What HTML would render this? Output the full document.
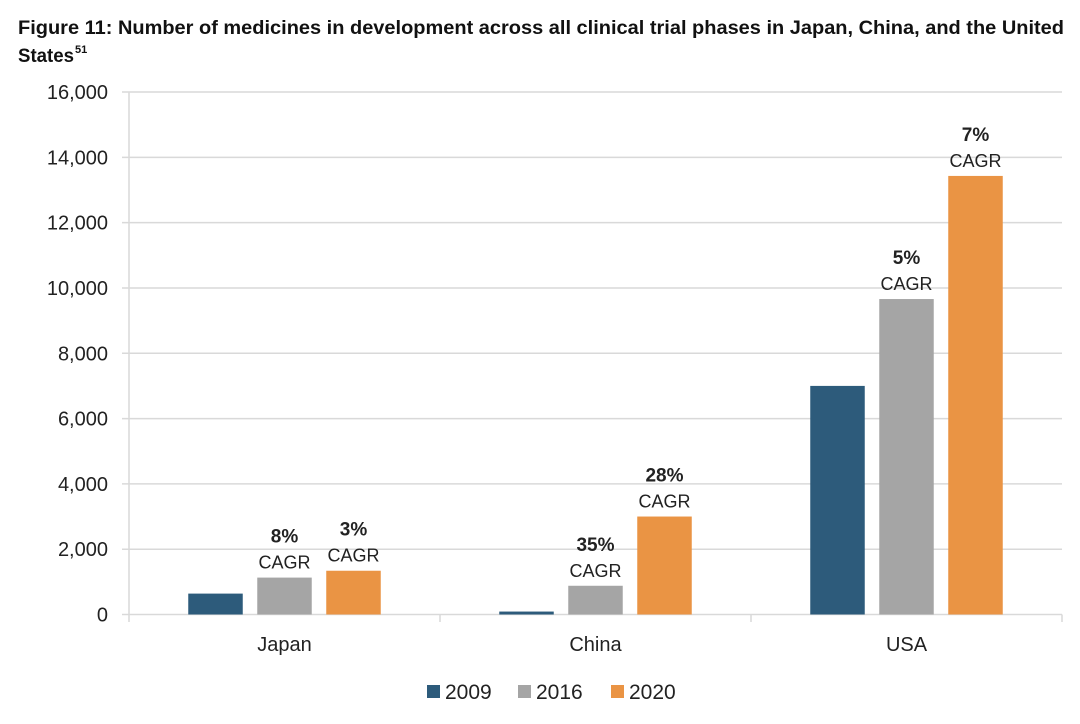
<!DOCTYPE html>
<html><head><meta charset="utf-8"><style>
html,body{margin:0;padding:0;background:#fff;width:1080px;height:724px;overflow:hidden}
svg{display:block;font-family:"Liberation Sans",sans-serif}
</style></head><body>
<svg id="chart" width="1080" height="724">
<text x="18" y="34" font-size="19" font-weight="bold" fill="#111" textLength="1046" lengthAdjust="spacingAndGlyphs">Figure 11: Number of medicines in development across all clinical trial phases in Japan, China, and the United</text>
<text x="18" y="62" font-size="19" font-weight="bold" fill="#111" textLength="56" lengthAdjust="spacingAndGlyphs">States</text>
<text x="75" y="53" font-size="11" font-weight="bold" fill="#111">51</text>
<g id="grid"></g><g id="bars"></g><g id="labels"></g><g id="legend"></g>
</svg>
<script>
const categories = ["Japan","China","USA"];
const seriesNames = ["2009","2016","2020"];
const v2009 = [640, 90, 7000];
const v2016 = [1130, 880, 9660];
const v2020 = [1340, 3000, 13430];
const cagr2016 = ["8%","35%","5%"];
const cagr2020 = ["3%","28%","7%"];
const yTicks = [0,2000,4000,6000,8000,10000,12000,14000,16000];
const colors = ["#2d5b7b","#a5a5a5","#ea9444"];
const NS="http://www.w3.org/2000/svg";
const x0=129,x1=1062,y0=614.5,yTop=92,yMax=16000;
const y=v=>y0-(v/yMax)*(y0-yTop);
const gw=(x1-x0)/categories.length;
function mk(tag,attrs,parent,text){const e=document.createElementNS(NS,tag);for(const k in attrs)e.setAttribute(k,attrs[k]);if(text!==undefined)e.textContent=text;parent.appendChild(e);return e;}
const grid=document.getElementById('grid'),bars=document.getElementById('bars'),labels=document.getElementById('labels'),legend=document.getElementById('legend');
yTicks.forEach(t=>{
  const l=mk('line',{x1:122,x2:x1,y1:y(t),y2:y(t),stroke:'#d9d9d9','stroke-width':1.5},grid);
  
  
  const tx=mk('text',{x:108,y:y(t)+7,'text-anchor':'end','font-size':20,fill:'#222'},grid,t.toLocaleString('en-US'));
  
  
});
const ax=mk('line',{x1:x0,x2:x0,y1:yTop,y2:622,stroke:'#d9d9d9','stroke-width':1.5},grid);


for(let i=1;i<=categories.length;i++){
  const tk=mk('line',{x1:x0+gw*i,x2:x0+gw*i,y1:y0,y2:622,stroke:'#d9d9d9','stroke-width':1.5},grid);
  
  
}
const series=[v2009,v2016,v2020];
const bw=54.5,step=69;
categories.forEach((c,i)=>{
  const cx=x0+gw*(i+0.5);
  series.forEach((s,j)=>{
    const bx=cx-bw/2+(j-1)*step;
    const r=mk('rect',{x:bx,y:y(s[i]),width:bw,height:y0-y(s[i]),fill:colors[j]},bars);
    
    
    if(j>0){
      const lab=(j===1?cagr2016:cagr2020)[i];
      if(!(i===0&&j===0)){
        const p=mk('text',{x:bx+bw/2,y:y(s[i])-35,'text-anchor':'middle','font-size':19,'font-weight':'bold',fill:'#222'},labels,lab);
        
        
        const q=mk('text',{x:bx+bw/2,y:y(s[i])-9,'text-anchor':'middle','font-size':18,fill:'#222'},labels,'CAGR');
        
        
      }
    }
  });
  const cl=mk('text',{x:cx,y:651,'text-anchor':'middle','font-size':20,fill:'#222'},labels,c);
  
  
});
const lx=[427,518,611];
seriesNames.forEach((n,j)=>{
  const g=mk('g',{},legend);
  
  
  mk('rect',{x:lx[j],y:685,width:13,height:13,fill:colors[j]},g);
  mk('text',{x:lx[j]+18,y:699,'font-size':21,fill:'#222'},g,n);
});
</script>
</body></html>
